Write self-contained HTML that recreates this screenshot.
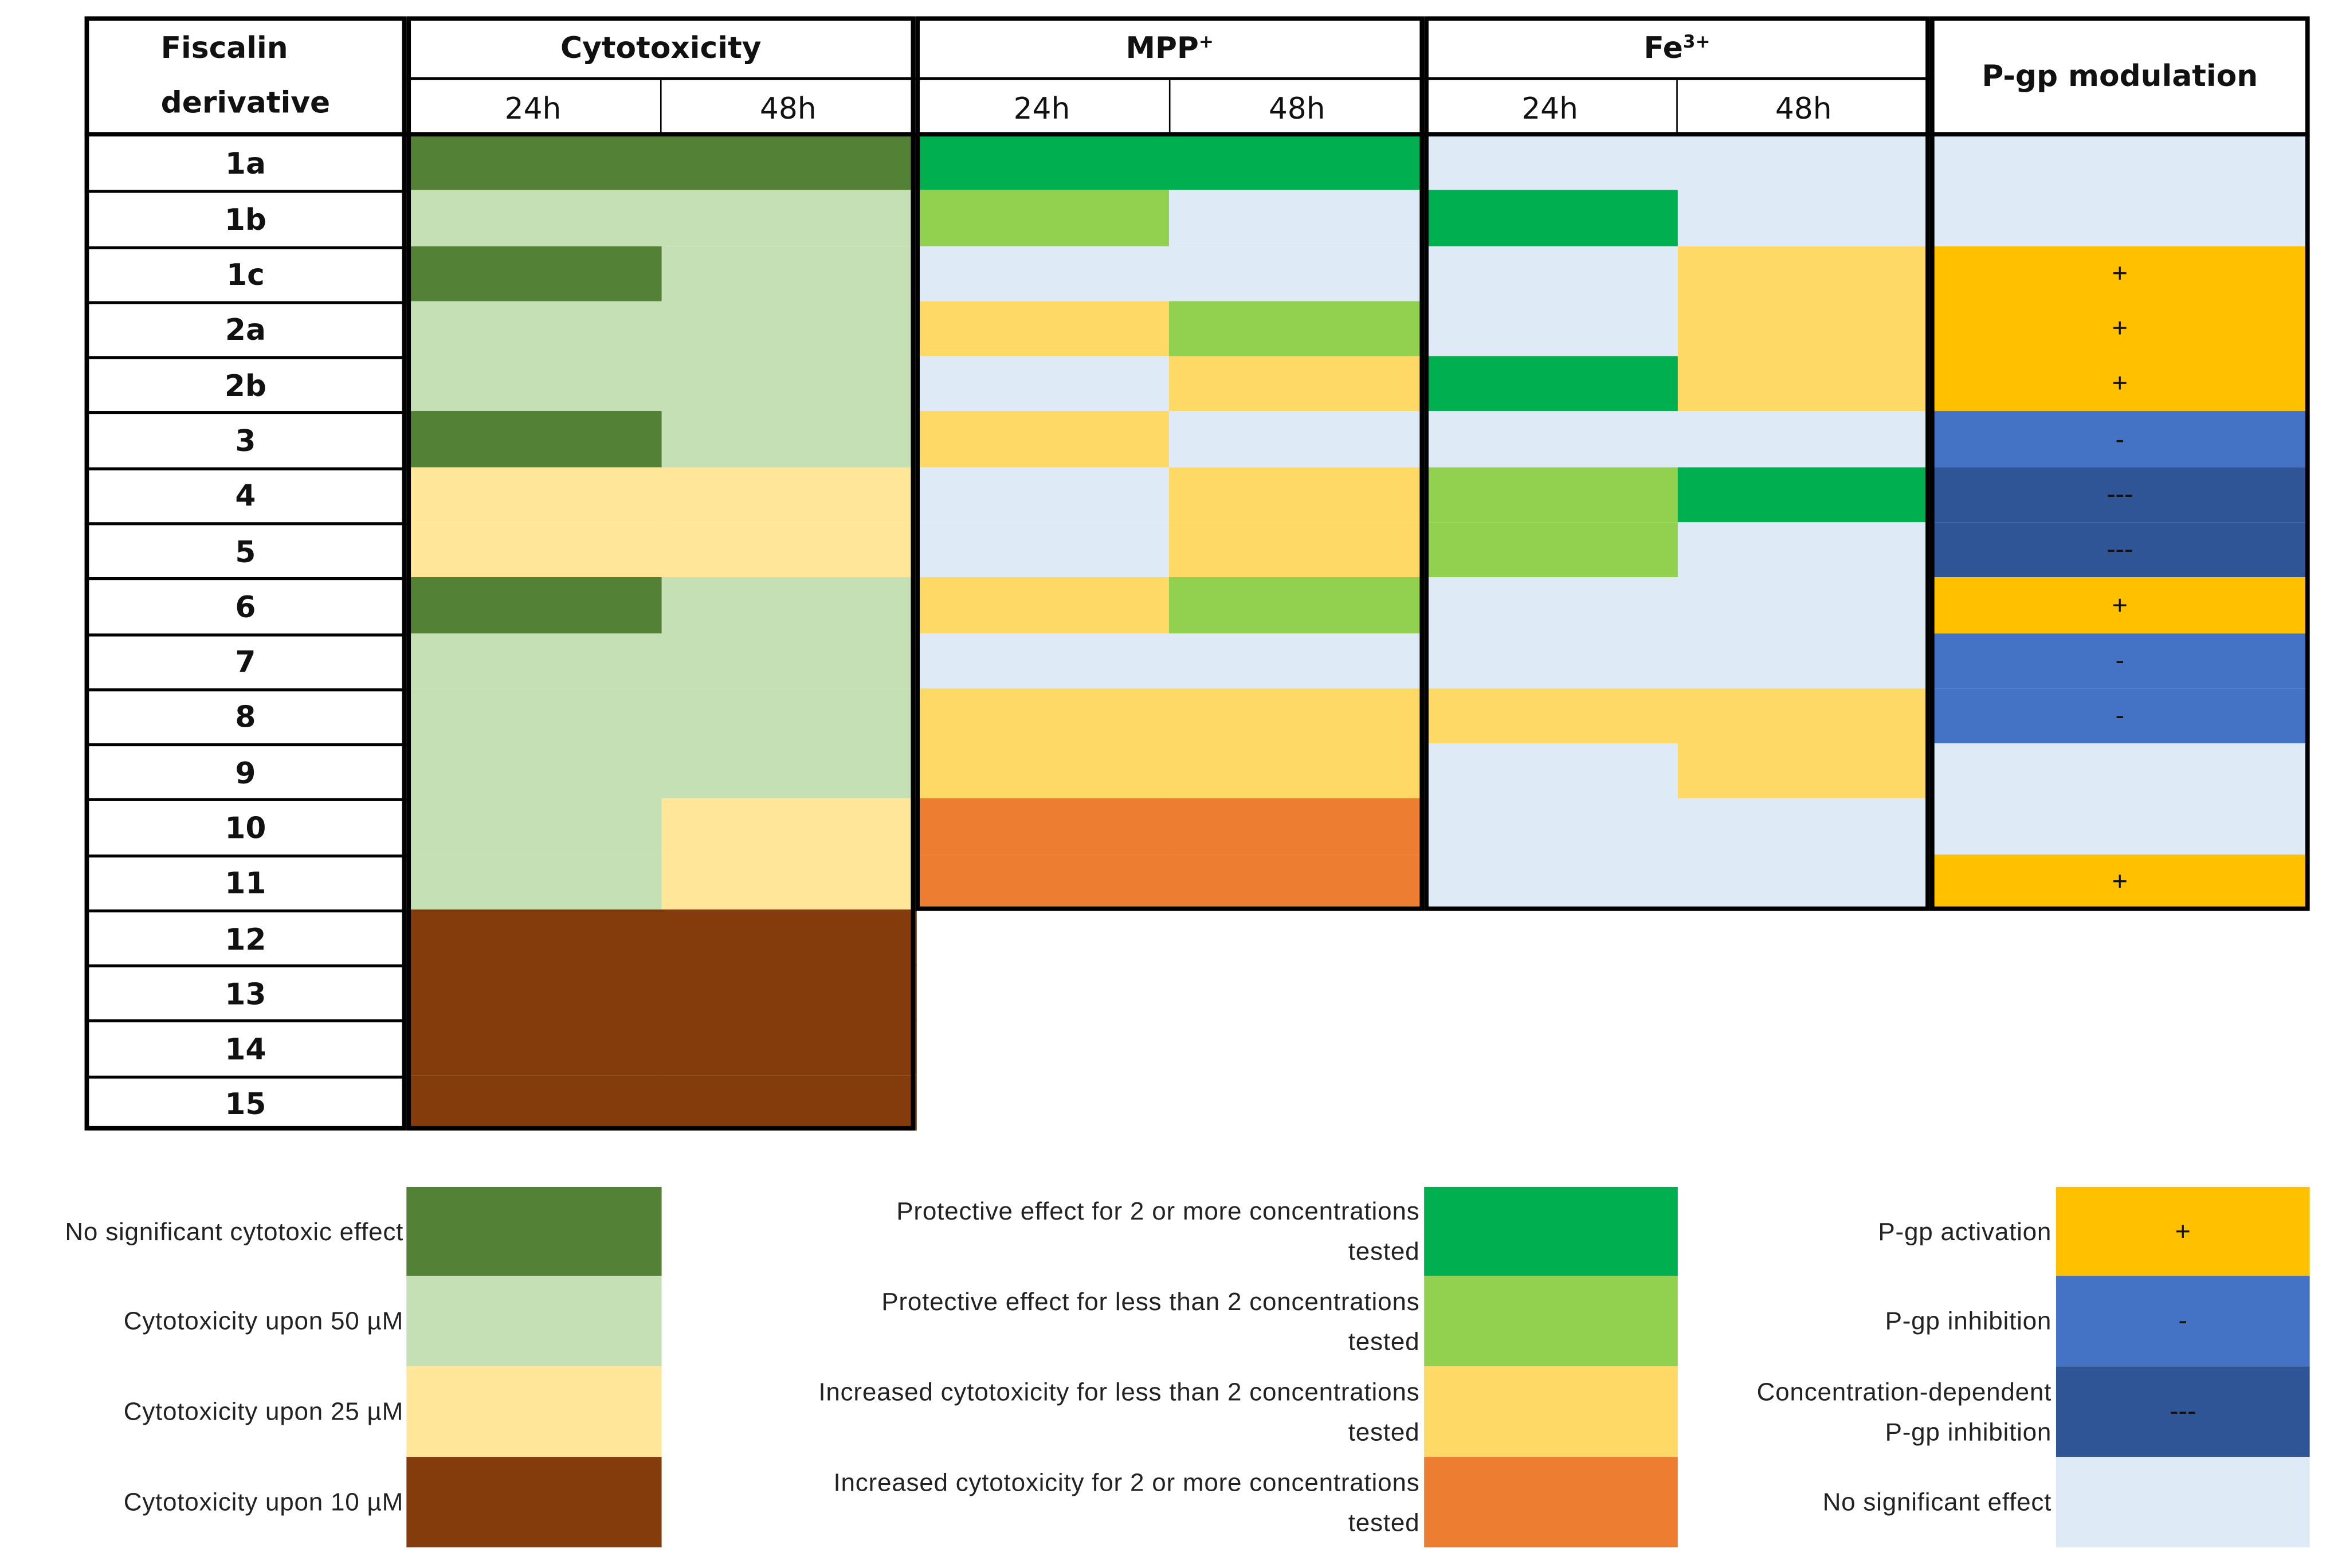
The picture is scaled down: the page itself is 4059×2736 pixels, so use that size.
<!DOCTYPE html>
<html><head><meta charset="utf-8"><style>
html,body{margin:0;padding:0;background:#fff;}
#root{position:absolute;left:0;top:0;width:1568px;height:1057px;transform:scale(2.5887);transform-origin:0 0;font-family:"DejaVu Sans","Liberation Sans",sans-serif;}
.a{position:absolute;box-sizing:border-box;}
.hd{display:flex;align-items:center;justify-content:center;font-weight:bold;font-size:20px;color:#111;}
.sub{display:flex;align-items:center;justify-content:center;font-size:20px;color:#111;}
.lb{font-family:"Liberation Sans",sans-serif;font-size:17px;letter-spacing:0.3px;color:#222;text-align:right;display:flex;flex-direction:column;justify-content:center;align-items:flex-end;line-height:27px;}
.sym{display:flex;align-items:center;justify-content:center;font-family:"Liberation Sans",sans-serif;font-size:18px;color:#111;}
sup{font-size:12px;position:relative;top:-4px;vertical-align:top;}
</style></head><body>
<div id="root"></div>
<script>
const rowLabels=["1a","1b","1c","2a","2b","3","4","5","6","7","8","9","10","11","12","13","14","15"];
const cyto24=["D","L","D","L","L","D","C","C","D","L","L","L","L","L","B","B","B","B"];
const cyto48=["D","L","L","L","L","L","C","C","L","L","L","L","C","C","B","B","B","B"];
const mpp24=["G","Li","N","Y","N","Y","N","N","Y","N","Y","Y","O","O"];
const mpp48=["G","N","N","Li","Y","N","Y","Y","Li","N","Y","Y","O","O"];
const fe24=["N","G","N","N","G","N","Li","Li","N","N","Y","N","N","N"];
const fe48=["N","N","Y","Y","Y","N","G","N","N","N","Y","Y","N","N"];
const pgp=["N","N","+","+","+","-","---","---","+","-","-","N","N","+"];
const colors={D:"#538135",L:"#C5E0B4",C:"#FFE699",B:"#843C0C",G:"#00B050",Li:"#92D050",N:"#DEEBF7",Y:"#FFD966",O:"#ED7D31","+":"#FFC000","-":"#4472C4","---":"#2F5597"};
const root=document.getElementById('root');
const colX=[57,274,446,617,788,960,1131,1301,1557];
const top0=91,rh=671/18;
function rowY(i){return top0+i*rh;}
function box(x,y,w,h,cls,name,style,text){const d=document.createElement('div');d.className='a '+(cls||'');
d.style.left=x+'px';d.style.top=y+'px';d.style.width=w+'px';d.style.height=h+'px';
if(style)Object.assign(d.style,style);if(text!==undefined)d.textContent=text;


root.appendChild(d);return d;}
const series=[cyto24,cyto48,mpp24,mpp48,fe24,fe48];
series.forEach((s,c)=>{s.forEach((v,i)=>{const last=(i===s.length-1);box(colX[c+1],rowY(i),colX[c+2]-colX[c+1]+0.5,rh+(last?0:0.5),'','cell-'+rowLabels[i]+'-'+c,{background:colors[v]});});});
pgp.forEach((v,i)=>{const sym=v==="N"?"":v;box(colX[7],rowY(i),colX[8]-colX[7],rh+(i===pgp.length-1?0:0.5),'sym','pgp-cell-'+rowLabels[i],{background:colors[v]},sym);});
rowLabels.forEach((l,i)=>{box(colX[0],rowY(i),colX[1]-colX[0],rh,'hd','row-label-'+l,{borderTop:i>0?'2px solid #000':'none'},l);});
box(57,11,217,80,'hd','header-fiscalin-derivative',{flexDirection:'column',lineHeight:'37px'}).innerHTML='Fiscalin<br>derivative';
const groups=["Cytotoxicity","MPP<sup>+</sup>","Fe<sup>3+</sup>"];
groups.forEach((g,k)=>{const x=colX[1+2*k],w=colX[3+2*k]-x;
box(x,11,w,43,'hd','header-group-'+k,{borderBottom:'2px solid #000'}).innerHTML=g;
box(x,54,w/2,37,'sub','header-24h-'+k,{borderRight:'1.5px solid #000'},'24h');
box(x+w/2,54,w/2,37,'sub','header-48h-'+k,{},'48h');});
box(1301,11,256,80,'hd','header-pgp-modulation',{},'P-gp modulation');
const bottomSub=rowY(14)+1.5;
box(57,11,217,751,'','label-column-border',{border:'3px solid #000'});
box(274,11,343,751,'','cyto-border',{border:'3px solid #000'});
box(617,11,343,bottomSub-11,'','mpp-border',{border:'3px solid #000'});
box(960,11,341,bottomSub-11,'','fe-border',{border:'3px solid #000'});
box(1301,11,256,bottomSub-11,'','pgp-border',{border:'3px solid #000'});
box(57,89,1500,3,'','header-bottom-line',{background:'#000'});
const legCyto=["No significant cytotoxic effect","Cytotoxicity upon 50 µM","Cytotoxicity upon 25 µM","Cytotoxicity upon 10 µM"];
const legCytoK=["D","L","C","B"];
const legMpp=["Protective effect for 2 or more concentrations<br>tested","Protective effect for less than 2 concentrations<br>tested","Increased cytotoxicity for less than 2 concentrations<br>tested","Increased cytotoxicity for 2 or more concentrations<br>tested"];
const legMppK=["G","Li","Y","O"];
const legPgp=["P-gp activation","P-gp inhibition","Concentration-dependent<br>P-gp inhibition","No significant effect"];
const legPgpK=["+","-","---","N"];
const ly=[800,860,921,982],lh=[60,61,61,61];
for(let i=0;i<4;i++){
box(274,ly[i],172,lh[i],'','legend-swatch-cyto-'+i,{background:colors[legCytoK[i]]});
box(0,ly[i],272,lh[i],'lb','legend-label-cyto-'+i,{}).innerHTML=legCyto[i];
box(960,ly[i],171,lh[i],'','legend-swatch-mpp-'+i,{background:colors[legMppK[i]]});
box(450,ly[i],507,lh[i],'lb','legend-label-mpp-'+i,{}).innerHTML=legMpp[i];
box(1386,ly[i],171,lh[i],'sym','legend-swatch-pgp-'+i,{background:colors[legPgpK[i]]},legPgpK[i]==="N"?"":legPgpK[i]);
box(1130,ly[i],253,lh[i],'lb','legend-label-pgp-'+i,{}).innerHTML=legPgp[i];
}
</script>
</body></html>
